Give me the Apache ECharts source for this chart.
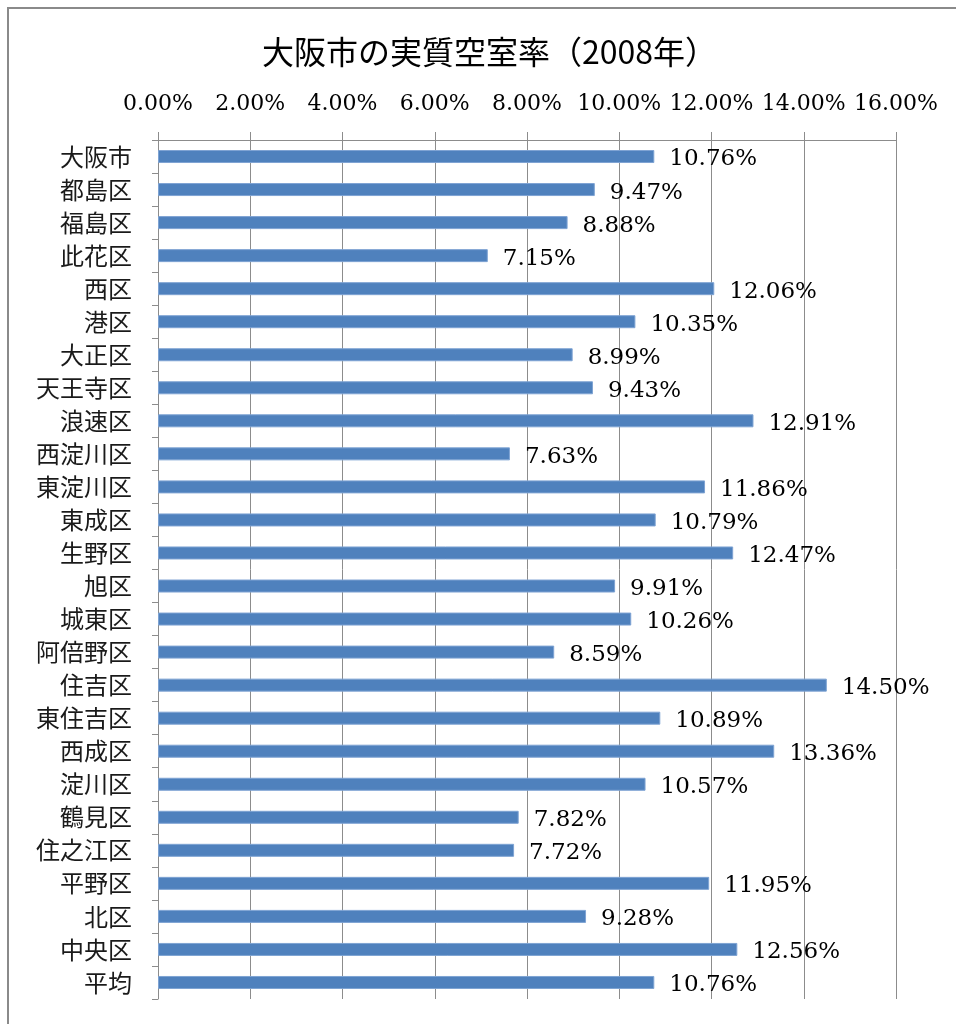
<!DOCTYPE html>
<html><head><meta charset="utf-8">
<script src="https://cdn.jsdelivr.net/npm/echarts@6/dist/echarts.min.js"></script>
<style>html,body{margin:0;padding:0;background:#fff}#c{width:956px;height:1024px}</style>
</head><body><div id="c"></div>
<script>
const titleText = '大阪市の実質空室率（2008年）';
const categories = ['大阪市','都島区','福島区','此花区','西区','港区','大正区','天王寺区','浪速区','西淀川区','東淀川区','東成区','生野区','旭区','城東区','阿倍野区','住吉区','東住吉区','西成区','淀川区','鶴見区','住之江区','平野区','北区','中央区','平均'];
const values = [10.76,9.47,8.88,7.15,12.06,10.35,8.99,9.43,12.91,7.63,11.86,10.79,12.47,9.91,10.26,8.59,14.50,10.89,13.36,10.57,7.82,7.72,11.95,9.28,12.56,10.76];
const axisMin = 0, axisMax = 16, axisStep = 2;

const chart = echarts.init(document.getElementById('c'));
chart.setOption({
  animation: false,
  backgroundColor: '#fff',
  title: {
    text: titleText, left: 257, top: 31,
    textStyle: {fontFamily: 'Noto Sans CJK JP', fontSize: 32, fontWeight: 'normal', color: '#000'}
  },
  graphic: [{
    type: 'rect', shape: {x: 8, y: 8, width: 1000, height: 1100},
    style: {fill: 'none', stroke: '#8a8a8a', lineWidth: 2}
  }],
  grid: {left: 158, right: 60, top: 140, bottom: 25},
  xAxis: {
    type: 'value', position: 'top', min: axisMin, max: axisMax, interval: axisStep,
    axisLine: {show: true, lineStyle: {color: '#8c8c8c', width: 1}},
    axisTick: {show: true, length: 8, lineStyle: {color: '#8c8c8c'}},
    splitLine: {show: true, lineStyle: {color: '#8c8c8c', width: 1}},
    axisLabel: {formatter: v => v.toFixed(2) + '%', fontFamily: 'DejaVu Serif', fontSize: 22, color: '#000', margin: 25}
  },
  yAxis: {
    type: 'category', data: categories, inverse: true,
    axisLine: {show: true, lineStyle: {color: '#8c8c8c'}},
    axisTick: {show: true, length: 6, lineStyle: {color: '#8c8c8c'}},
    axisLabel: {fontFamily: 'Noto Sans CJK JP', fontSize: 24, color: '#1a1a1a', margin: 26}
  },
  series: [{
    type: 'bar', data: values, barWidth: 13,
    itemStyle: {color: '#4F81BD', borderColor: '#7ea3d3', borderWidth: 1},
    label: {
      show: true, position: 'right', distance: 15, offset: [0, 3],
      formatter: p => p.value.toFixed(2) + '%',
      fontFamily: 'DejaVu Serif', fontSize: 23, color: '#000'
    }
  }]
});
</script></body></html>
